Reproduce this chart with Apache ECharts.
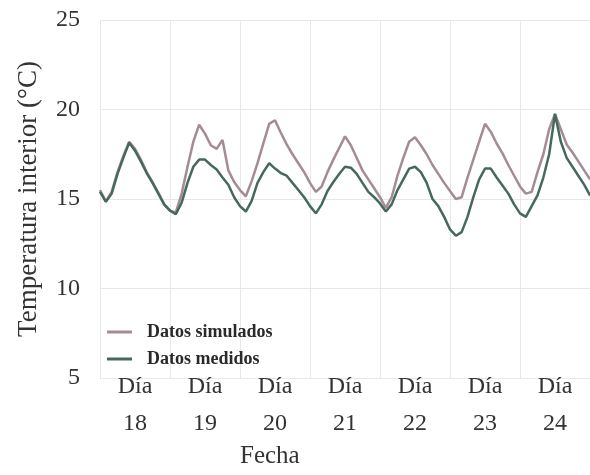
<!DOCTYPE html>
<html>
<head>
<meta charset="utf-8">
<script src="https://cdn.jsdelivr.net/npm/echarts@6/dist/echarts.min.js"></script>
<style>
  html, body { margin: 0; padding: 0; background: #fff; }
  #chart { width: 590px; height: 475px; }
</style>
</head>
<body>
<div id="chart"></div>
<script>
// dias (eje x) y lecturas cada 2 horas, del dia 18 a las 0h hasta el final del dia 24
var dias = ['18', '19', '20', '21', '22', '23', '24'];
var pasoHoras = 2;
var yTicks = [5, 10, 15, 20, 25];

var simulados = [
  15.5, 14.85, 15.4, 16.5, 17.4, 18.2, 17.8, 17.2, 16.5, 15.95, 15.35, 14.7,
  14.35, 14.25, 15.3, 16.8, 18.2, 19.15, 18.65, 18.0, 17.8, 18.3, 16.6, 15.95,
  15.5, 15.15, 16.0, 17.0, 18.1, 19.2, 19.4, 18.7, 18.05, 17.5, 17.0, 16.5,
  15.9, 15.4, 15.7, 16.5, 17.2, 17.85, 18.5, 18.0, 17.3, 16.6, 16.1, 15.6,
  15.1, 14.5, 15.1, 16.3, 17.3, 18.2, 18.45, 18.0, 17.5, 16.9, 16.4, 15.9,
  15.45, 15.0, 15.1, 16.2, 17.2, 18.2, 19.2, 18.75, 18.1, 17.55, 16.9, 16.3,
  15.7, 15.3, 15.4, 16.5, 17.5, 18.9, 19.75, 18.9, 18.05, 17.6, 17.1, 16.6,
  16.1
];

var medidos = [
  15.4, 14.85, 15.3, 16.4, 17.3, 18.15, 17.7, 17.1, 16.45, 15.9, 15.3, 14.7,
  14.35, 14.15, 14.8, 15.9, 16.8, 17.2, 17.2, 16.9, 16.65, 16.2, 15.8, 15.1,
  14.6, 14.3, 14.9, 15.9, 16.5, 17.0, 16.7, 16.45, 16.3, 15.9, 15.5, 15.1,
  14.6, 14.2, 14.7, 15.45, 15.95, 16.4, 16.8, 16.75, 16.4, 15.9, 15.4, 15.1,
  14.75, 14.3, 14.7, 15.5, 16.1, 16.7, 16.8, 16.5, 15.9, 15.0, 14.6, 14.0,
  13.3, 12.95, 13.15, 14.0, 15.1, 16.1, 16.7, 16.7, 16.2, 15.75, 15.3, 14.7,
  14.2, 14.0, 14.6, 15.2, 16.2, 17.5, 19.75, 18.2, 17.3, 16.8, 16.3, 15.8,
  15.2
];

function aPuntos(arr) {
  return arr.map(function (v, i) { return [i * pasoHoras, v]; });
}

var fuente = '"Liberation Serif", "DejaVu Serif", serif';
var myChart = echarts.init(document.getElementById('chart'));

var option = {
  backgroundColor: '#fff',
  animation: false,
  textStyle: { fontFamily: fuente },
  grid: { left: 100, right: 0, top: 20, bottom: 97 },
  legend: {
    orient: 'vertical',
    left: 102,
    top: 318,
    icon: 'rect',
    itemWidth: 25,
    itemHeight: 3,
    itemGap: 9,
    textStyle: {
      fontFamily: fuente, fontSize: 18, fontWeight: 'bold', color: '#2a2a2a',
      padding: [0, 0, 0, 10]
    },
    data: ['Datos simulados', 'Datos medidos']
  },
  xAxis: [{
    type: 'value',
    min: 0,
    max: dias.length * 24,
    interval: 24,
    axisLine: { show: false },
    axisTick: { show: false },
    axisLabel: { show: false },
    splitLine: { show: true, lineStyle: { color: '#e8e8e8', width: 1 } }
  }, {
    type: 'category',
    position: 'bottom',
    boundaryGap: true,
    data: dias,
    axisLine: { show: false },
    axisTick: { show: false },
    splitLine: { show: false },
    axisLabel: {
      margin: -10,
      fontFamily: fuente,
      fontSize: 24,
      lineHeight: 37,
      color: '#333',
      formatter: function (v) { return 'Día\n' + v; }
    }
  }],
  yAxis: {
    type: 'value',
    min: yTicks[0],
    max: yTicks[yTicks.length - 1],
    interval: 5,
    name: 'Temperatura interior (°C)',
    nameLocation: 'middle',
    nameGap: 58,
    nameTextStyle: { fontFamily: fuente, fontSize: 27, color: '#333' },
    axisLine: { show: false },
    axisTick: { show: false },
    axisLabel: { margin: 20, fontFamily: fuente, fontSize: 24, color: '#333' },
    splitLine: { show: true, lineStyle: { color: '#e8e8e8', width: 1 } }
  },
  graphic: [{
    type: 'text',
    left: 240,
    top: 444,
    style: { text: 'Fecha', fontFamily: fuente, fontSize: 25, fill: '#333' }
  }],
  series: [{
    name: 'Datos simulados',
    type: 'line',
    xAxisIndex: 0,
    showSymbol: false,
    symbol: 'none',
    color: '#a48b95',
    lineStyle: { width: 2.5, color: '#a48b95' },
    data: aPuntos(simulados)
  }, {
    name: 'Datos medidos',
    type: 'line',
    xAxisIndex: 0,
    showSymbol: false,
    symbol: 'none',
    color: '#46695f',
    lineStyle: { width: 2.5, color: '#46695f' },
    data: aPuntos(medidos)
  }]
};

myChart.setOption(option);
window.addEventListener('resize', function () { myChart.resize(); });
</script>
</body>
</html>
